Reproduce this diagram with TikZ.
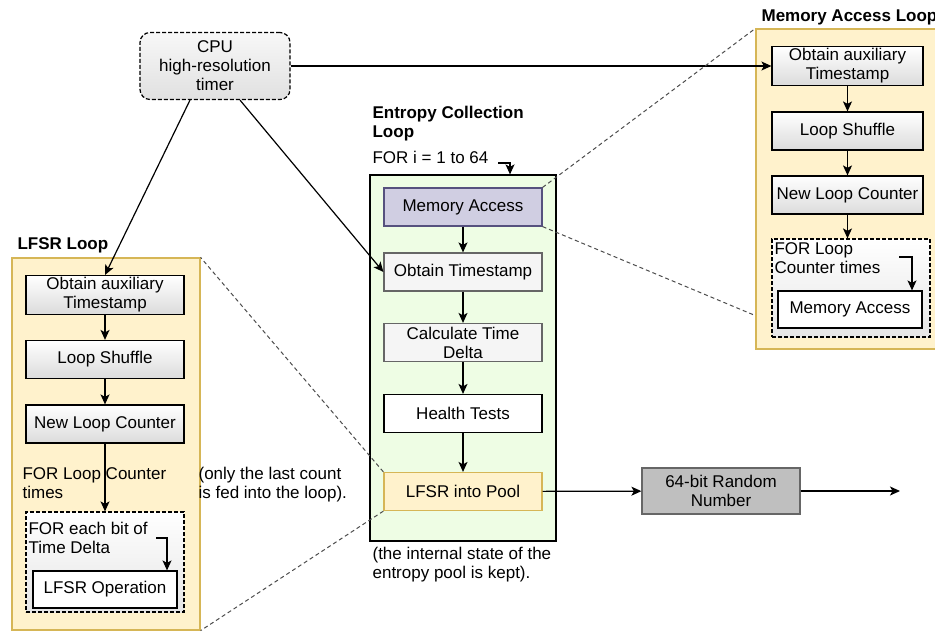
\documentclass[tikz,border=0pt]{standalone}
\usepackage{fontspec}
\setmainfont{Liberation Sans}
\usetikzlibrary{arrows.meta}

\definecolor{loopyellow}{HTML}{FFF2CC}
\definecolor{loopedge}{HTML}{D6B656}
\definecolor{entgreen}{HTML}{EEFDE4}
\definecolor{memfill}{HTML}{D0CEE2}
\definecolor{memedge}{HTML}{56517E}
\definecolor{stepedge}{HTML}{666666}

\begin{document}
\begin{tikzpicture}[x=1pt, y=-1pt, line width=1.2pt,
  font=\fontsize{17}{19}\selectfont,
  >={Stealth[length=10pt, width=9pt, inset=2.5pt]},
  every node/.style={inner sep=2pt},
  looparea/.style={draw=loopedge, fill=loopyellow, minimum width=188pt},
  gradbox/.style={draw=black, top color=white, bottom color=black!14,
    minimum width=158pt, minimum height=38pt, align=center},
  flatbox/.style={draw=stepedge, fill=black!4,
    minimum width=158pt, minimum height=38pt, align=center},
  plainbox/.style={draw=black, fill=white,
    minimum width=144pt, minimum height=37pt, align=center},
  innerloop/.style={draw=black, dashed, dash pattern=on 4pt off 2pt,
    top color=white, bottom color=black!10, minimum width=158pt},
  zoomline/.style={draw=black!70, line width=1pt, dashed, dash pattern=on 4pt off 3pt},
  title/.style={font=\fontsize{17}{19}\selectfont\bfseries, align=left},
  note/.style={align=left, anchor=north west, inner sep=0pt}]
  \useasboundingbox (0,0) rectangle (935,633);

  % timer
  \node (cpu) [draw, dashed, dash pattern=on 4pt off 2pt, rounded corners=10pt,
    top color=black!3, bottom color=black!12, minimum width=150pt,
    minimum height=67pt, align=center] at (215,66) {CPU\\high-resolution\\timer};

  % loop frames
  \node (lfl) [looparea, minimum height=372pt] at (106,444) {};
  \node (el) [draw, fill=entgreen, minimum width=186pt, minimum height=366pt] at (463,358) {};
  \node (mal) [looparea, minimum width=190pt, minimum height=320pt] at (851,189) {};

  \node (lfltitle) [title, anchor=west] at (15,245) {LFSR Loop};
  \node (eltitle) [title, anchor=north west, inner sep=0pt] at (372,106) {Entropy Collection\\Loop};
  \node (maltitle) [title, anchor=west] at (759,17) {Memory Access Loop};

  % entropy collection loop
  \node (fori) [anchor=west, inner sep=0pt] at (372,157) {FOR i = 1 to 64};
  \node (ema) [draw=memedge, fill=memfill, minimum width=158pt, minimum height=38pt] at (463,207) {Memory Access};
  \node (eobt) [flatbox] at (463,272) {Obtain Timestamp};
  \node (ecalc) [flatbox] at (463,342.5) {Calculate Time\\Delta};
  \node (ehealth) [flatbox, draw=black, fill=white] at (463,413.5) {Health Tests};
  \node (elfsr) [flatbox, draw=loopedge, fill=loopyellow] at (463,491.5) {LFSR into Pool};
  \node (rng) [draw=stepedge, fill=black!25, minimum width=158pt, minimum height=46pt,
    align=center] at (721,491) {64-bit Random\\Number};
  \coordinate (out) at (900,491);
  \coordinate (forhook) at (498,163);

  \node (elnote) [note] at (372,547) {(the internal state of the\\entropy pool is kept).};

  % memory access loop
  \node (maobt) [gradbox, minimum width=151pt] at (847.5,66) {Obtain auxiliary\\Timestamp};
  \node (mashuf) [gradbox, minimum width=151pt] at (847.5,131) {Loop Shuffle};
  \node (macnt) [gradbox, minimum width=151pt] at (847.5,195) {New Loop Counter};
  \node (macont) [innerloop, minimum height=98pt] at (851,288) {};
  \node (matext) [note] at (774,242) {FOR Loop\\Counter times};
  \node (mamem) [plainbox] at (850,309.5) {Memory Access};
  \coordinate (mahook) at (899,257);

  % lfsr loop
  \node (lobt) [gradbox] at (105,295) {Obtain auxiliary\\Timestamp};
  \node (lshuf) [gradbox] at (105,359.5) {Loop Shuffle};
  \node (lcnt) [gradbox] at (105,424) {New Loop Counter};
  \node (ltext) [note] at (22,467) {FOR Loop Counter\\times};
  \node (lcont) [innerloop, minimum height=100pt] at (105,562) {};
  \node (lfor) [note] at (28,522) {FOR each bit of\\Time Delta};
  \node (lop) [plainbox] at (105,589.5) {LFSR Operation};
  \coordinate (lhook) at (156,538);

  \node (lnote) [note] at (198,467) {(only the last count\\is fed into the loop).};

  % connectors
  \draw[->] (cpu.east) -- (maobt.west);
  \draw[->] ([xshift=-25pt]cpu.south) -- (lobt.north);
  \draw[->] ([xshift=25pt]cpu.south) -- (eobt.west);

  \draw[->] (forhook) -| ([xshift=47pt]el.north);
  \draw[->] (ema) -- (eobt);
  \draw[->] (eobt) -- (ecalc);
  \draw[->] (ecalc) -- (ehealth);
  \draw[->] (ehealth) -- (elfsr);
  \draw[->] (elfsr) -- (rng);
  \draw[->] (rng) -- (out);

  \draw[->] (maobt) -- (mashuf);
  \draw[->] (mashuf) -- (macnt);
  \draw[->] (macnt.south) -- (macnt.south |- macont.north);
  \draw[->] (mahook) -| ([xshift=62pt]mamem.north);

  \draw[->] (lobt) -- (lshuf);
  \draw[->] (lshuf) -- (lcnt);
  \draw[->] (lcnt) -- (lcont);
  \draw[->] (lhook) -| ([xshift=62pt]lop.north);

  % zoom lines
  \draw[zoomline] (ema.north east) -- (mal.north west);
  \draw[zoomline] (ema.south east) -- ([yshift=34pt]mal.south west);
  \draw[zoomline] (elfsr.north west) -- (lfl.north east);
  \draw[zoomline] (elfsr.south west) -- (lfl.south east);
\end{tikzpicture}
\end{document}
